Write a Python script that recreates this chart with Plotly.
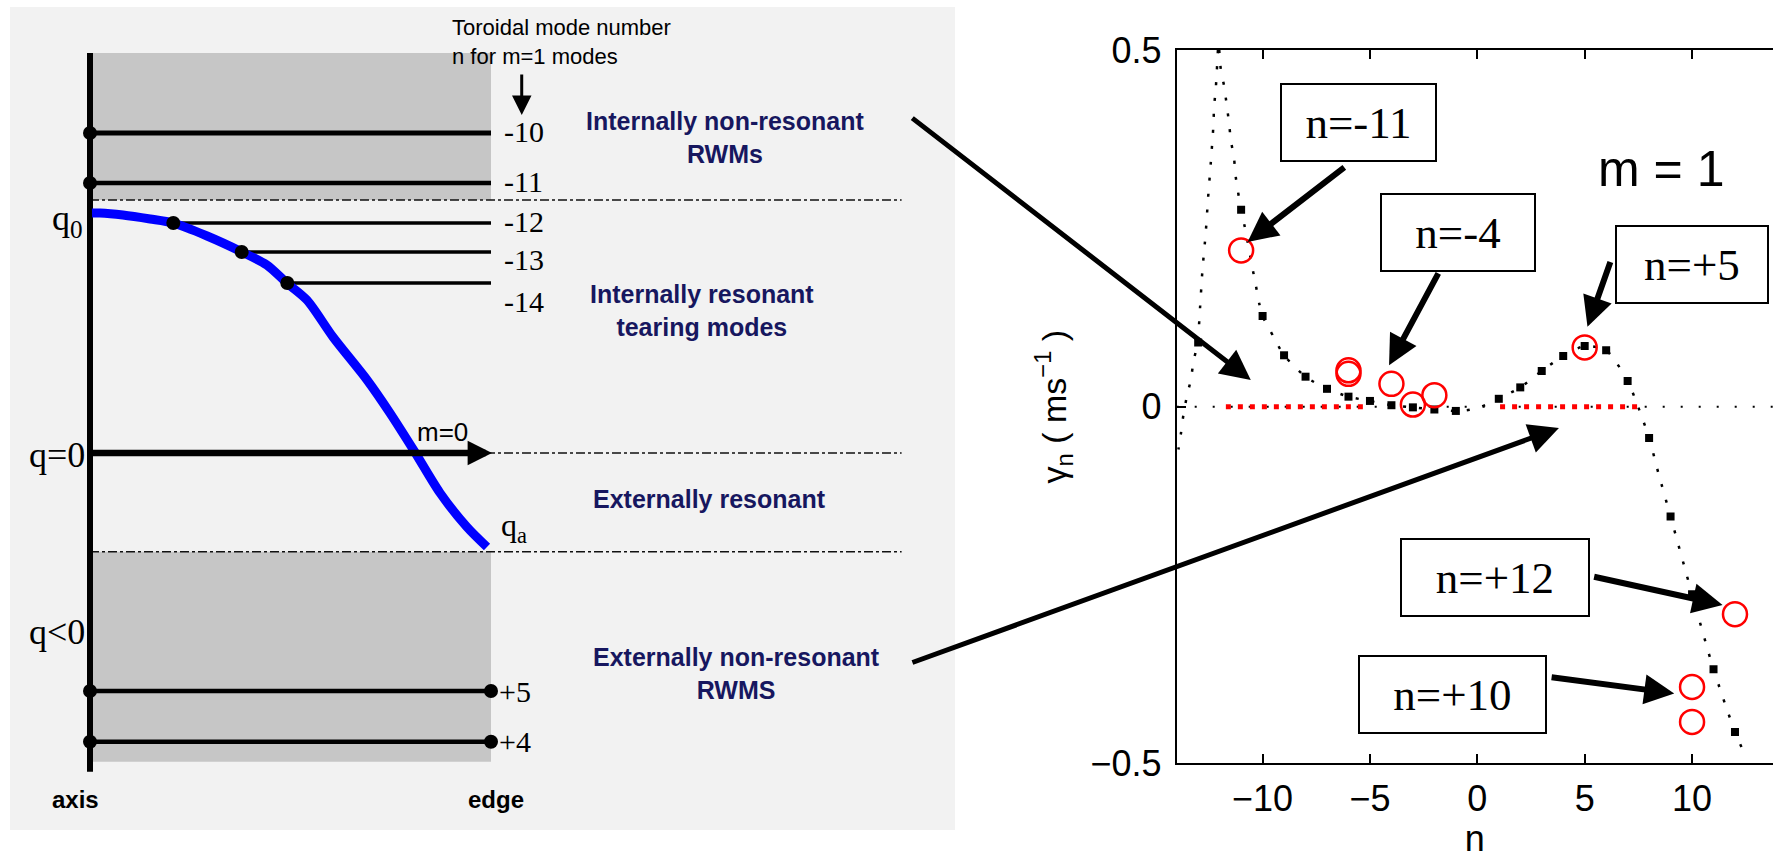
import plotly.graph_objects as go

# ===== m = 1 growth-rate spectrum (right panel) =====
# dotted spectrum curve, branch to the left of the pole near n = -12
n_curve_left = [-12.08, -12.18, -12.26, -12.29, -12.41, -12.54, -12.65, -12.80, -12.91,
                -13.03, -13.22, -13.34, -13.53, -13.69, -13.80, -13.92]
gamma_curve_left = [0.500, 0.446, 0.420, 0.395, 0.343, 0.292, 0.243, 0.192, 0.140,
                    0.089, 0.063, 0.038, 0.014, -0.012, -0.037, -0.060]
# dotted spectrum curve, branch to the right of the pole
n_curve_right = [-12.02, -11.95, -11.79, -11.67, -11.56, -11.48, -11.33, -11.25, -11.0,
                 -10.78, -10.63, -10.47, -10.32, -10.16, -10.0, -9.49, -9.0, -8.0, -7.0,
                 -6.0, -5.0, -4.0, -3.0, -2.0, -1.0, -0.5, 0.0, 0.5, 1.0, 2.0, 3.0, 4.0,
                 5.0, 6.0, 7.0, 7.46, 8.0, 8.44, 9.0, 10.0, 11.0, 12.0, 12.43]
gamma_curve_right = [0.500, 0.474, 0.449, 0.423, 0.397, 0.374, 0.348, 0.322, 0.276,
                     0.245, 0.220, 0.194, 0.171, 0.145, 0.127, 0.098, 0.072, 0.042, 0.025,
                     0.014, 0.008, 0.002, -0.001, -0.004, -0.006, -0.005, -0.002, 0.004,
                     0.011, 0.027, 0.050, 0.071, 0.085, 0.079, 0.036, 0.002, -0.044,
                     -0.094, -0.154, -0.263, -0.368, -0.456, -0.486]
# computed growth rates at integer n
n_points = [-13, -11, -10, -9, -8, -7, -6, -5, -4, -3, -2, -1,
            1, 2, 3, 4, 5, 6, 7, 8, 9, 10, 11, 12]
gamma_points = [0.090, 0.276, 0.127, 0.072, 0.042, 0.025, 0.014, 0.008, 0.002, -0.001,
                -0.004, -0.006, 0.011, 0.027, 0.050, 0.071, 0.085, 0.079, 0.036, -0.044,
                -0.154, -0.263, -0.368, -0.456]
# observed modes (open circles)
n_observed = [-11, -6, -6, -4, -3, -2, 5, 10, 10, 12]
gamma_observed = [0.219, 0.051, 0.046, 0.032, 0.003, 0.016, 0.083, -0.393, -0.442, -0.291]
# n-ranges marked along gamma = 0
stable_from = [-11.71, 1.06]
stable_to = [-5.04, 7.69]
x_ticks = [-10, -5, 0, 5, 10]
y_ticks = [-0.5, 0, 0.5]
callout_labels = ["n=-11", "n=-4", "n=+5", "n=+12", "n=+10"]
callout_targets_n = [-10.70, -4.11, 5.13, 11.42, 9.17]
callout_targets_gamma = [0.231, 0.058, 0.112, -0.278, -0.402]

# ===== schematic safety-factor profile (left panel) =====
# r: 0 = magnetic axis, 1 = edge; level: schematic q value, 0 = reversal surface
profile_r = [0.005, 0.025, 0.082, 0.150, 0.207, 0.292, 0.379, 0.441, 0.491, 0.541,
             0.606, 0.691, 0.748, 0.810, 0.873, 0.940, 0.990]
profile_level = [2.40, 2.40, 2.38, 2.34, 2.30, 2.17, 2.01, 1.88, 1.70, 1.53,
                 1.16, 0.73, 0.40, 0.01, -0.40, -0.74, -0.94]
nonres_int_labels = ["-10", "-11"]
nonres_int_level = [3.20, 2.70]
res_int_labels = ["-12", "-13", "-14"]
res_int_level = [2.30, 2.01, 1.70]
res_int_r = [0.2077, 0.3783, 0.492]
nonres_ext_labels = ["+5", "+4"]
nonres_ext_level = [-2.38, -2.887]
boundary_inner = 2.53
boundary_outer = -0.987

W, H = 1773, 861
SANS = "Liberation Sans"
SERIF = "Liberation Serif"
NAVY = "#17175f"

fig = go.Figure()

# ---------------- left panel ----------------
L = dict(xaxis="x2", yaxis="y2", hoverinfo="skip", showlegend=False)

shapes = [
    dict(type="rect", xref="x2", yref="y2", x0=-0.1995, x1=2.1571, y0=-3.77, y1=4.46,
         fillcolor="#f2f2f2", line_width=0, layer="below"),
    dict(type="rect", xref="x2", yref="y2", x0=0, x1=1, y0=boundary_inner, y1=4.00,
         fillcolor="#c6c6c6", line_width=0, layer="below"),
    dict(type="rect", xref="x2", yref="y2", x0=0, x1=1, y0=-3.087, y1=boundary_outer,
         fillcolor="#c6c6c6", line_width=0, layer="below"),
]
for lev in (boundary_inner, 0.0, boundary_outer):
    shapes.append(dict(type="line", xref="x2", yref="y2", x0=0, x1=2.024, y0=lev, y1=lev,
                       line=dict(color="#111111", width=1.5, dash="9px,3px,3px,3px"),
                       layer="below"))

# magnetic axis line
fig.add_trace(go.Scatter(x=[0, 0], y=[-3.187, 4.0], mode="lines",
                         line=dict(color="black", width=6), **L))
# internally non-resonant surfaces
for lev, w in zip(nonres_int_level, [5, 4.5]):
    fig.add_trace(go.Scatter(x=[0, 1], y=[lev, lev], mode="lines",
                             line=dict(color="black", width=w), **L))
# internally resonant surfaces
for r0, lev in zip(res_int_r, res_int_level):
    fig.add_trace(go.Scatter(x=[r0, 1], y=[lev, lev], mode="lines",
                             line=dict(color="black", width=3.5), **L))
# externally non-resonant surfaces
for lev in nonres_ext_level:
    fig.add_trace(go.Scatter(x=[0, 1], y=[lev, lev], mode="lines",
                             line=dict(color="black", width=4.5), **L))
# q profile
fig.add_trace(go.Scatter(x=profile_r, y=profile_level, mode="lines",
                         line=dict(color="#0000ff", width=9, shape="spline", smoothing=0.8), **L))
# dots
dot_r = [0] * len(nonres_int_level) + res_int_r + [0] * len(nonres_ext_level) + [1] * len(nonres_ext_level)
dot_l = nonres_int_level + res_int_level + nonres_ext_level + nonres_ext_level
fig.add_trace(go.Scatter(x=dot_r, y=dot_l, mode="markers",
                         marker=dict(color="black", size=14), **L))

ann = []


def ltext(text, r, lev, size, family=SERIF, color="black", xanchor="center",
          weight="normal", yshift=0, align="center"):
    ann.append(dict(text=text, x=r, y=lev, xref="x2", yref="y2", showarrow=False,
                    xanchor=xanchor, yanchor="middle", yshift=yshift, align=align,
                    font=dict(family=family, size=size, color=color, weight=weight)))


# mode number labels
for lab, lev, ys in zip(nonres_int_labels + res_int_labels, nonres_int_level + res_int_level,
                        [2, 2, 2, -7, -18]):
    ltext(lab, 1.027, lev, 30, xanchor="left", yshift=ys)
for lab, lev in zip(nonres_ext_labels, nonres_ext_level):
    ltext(lab, 1.015, lev, 30, xanchor="left")

ltext("Toroidal mode number<br>n for m=1 modes", 0.898, 4.11, 22, family=SANS, xanchor="left",
      align="left")
ltext("q<sub>0</sub>", -0.012, 2.33, 36, xanchor="right")
ltext("q=0", -0.008, -0.02, 36, xanchor="right")
ltext("q<0", -0.008, -1.79, 36, xanchor="right")
ltext("m=0", 0.878, 0.21, 26, family=SANS)
ltext("q<sub>a</sub>", 1.057, -0.74, 32)
ltext("axis", -0.035, -3.46, 24, family=SANS, weight="bold")
ltext("edge", 1.0125, -3.46, 24, family=SANS, weight="bold")
ltext("Internally non-resonant<br>RWMs", 1.584, 3.16, 25, family=SANS, color=NAVY, weight="bold")
ltext("Internally resonant<br>tearing modes", 1.526, 1.425, 25, family=SANS, color=NAVY, weight="bold")
ltext("Externally resonant", 1.546, -0.46, 25, family=SANS, color=NAVY, weight="bold")
ltext("Externally non-resonant<br>RWMS", 1.613, -2.2, 25, family=SANS, color=NAVY, weight="bold")

# q = 0 arrow and the down arrow under the mode-number heading
ann.append(dict(x=1.0025, y=0, ax=0, ay=0, xref="x2", yref="y2", axref="x2", ayref="y2",
                text="", showarrow=True, arrowhead=2, arrowwidth=6.5, arrowsize=0.75,
                arrowcolor="black", standoff=0))
ann.append(dict(x=1.0766, y=3.38, ax=0, ay=-42, xref="x2", yref="y2",
                text="", showarrow=True, arrowhead=2, arrowwidth=3, arrowsize=1.3,
                arrowcolor="black", standoff=0))

# ---------------- right panel ----------------
R = dict(xaxis="x", yaxis="y", hoverinfo="skip", showlegend=False)
# gamma = 0 reference
fig.add_trace(go.Scatter(x=[-14, 13.77], y=[0, 0], mode="lines",
                         line=dict(color="black", width=2, dash="2px,16px"), **R))
# spectrum curves
for xs, ys in ((n_curve_left, gamma_curve_left), (n_curve_right, gamma_curve_right)):
    fig.add_trace(go.Scatter(x=xs, y=ys, mode="lines",
                             line=dict(color="black", width=2.5, dash="3px,13px",
                                       shape="spline", smoothing=0.7), **R))
fig.add_trace(go.Scatter(x=n_points, y=gamma_points, mode="markers",
                         marker=dict(color="black", size=8, symbol="square"), **R))
# stable ranges
for a, b in zip(stable_from, stable_to):
    fig.add_trace(go.Scatter(x=[a, b], y=[0, 0], mode="lines",
                             line=dict(color="#ff0000", width=5, dash="5px,7px"), **R))
# observed modes
fig.add_trace(go.Scatter(x=n_observed, y=gamma_observed, mode="markers",
                         marker=dict(symbol="circle-open", size=24, color="#ff0000",
                                     line=dict(width=2.5, color="#ff0000")), **R))

# callout boxes
box_n = [-5.52, -0.885, 9.98, 0.82, -1.155]
box_g = [0.399, 0.244, 0.199, -0.240, -0.404]
box_w = [157, 156, 154, 190, 189]
tail_n = [-6.125, -1.78, 6.22, 5.37, 3.39]
tail_g = [0.337, 0.189, 0.205, -0.238, -0.379]
for lab, bn, bg, bw, tn, tg, hn, hg in zip(callout_labels, box_n, box_g, box_w, tail_n, tail_g,
                                            callout_targets_n, callout_targets_gamma):
    ann.append(dict(text=lab, x=bn, y=bg, xref="x", yref="y", showarrow=False,
                    width=bw - 4, height=75, bgcolor="white", bordercolor="black",
                    borderwidth=2, borderpad=0, xanchor="center", yanchor="middle",
                    font=dict(family=SERIF, size=45, color="black")))
    ann.append(dict(x=hn, y=hg, ax=tn, ay=tg, xref="x", yref="y", axref="x", ayref="y",
                    text="", showarrow=True, arrowhead=2, arrowwidth=6, arrowsize=1,
                    arrowcolor="black", standoff=0))

# arrows linking the schematic regions to the spectrum
ann.append(dict(x=-10.55, y=0.0374, ax=-340, ay=-263, xref="x", yref="y",
                text="", showarrow=True, arrowhead=2, arrowwidth=5, arrowsize=1.2,
                arrowcolor="black", standoff=0))
ann.append(dict(x=3.80, y=-0.030, ax=-648, ay=235, xref="x", yref="y",
                text="", showarrow=True, arrowhead=2, arrowwidth=5, arrowsize=1.2,
                arrowcolor="black", standoff=0))

ann.append(dict(text="m = 1", x=8.55, y=0.333, xref="x", yref="y", showarrow=False,
                font=dict(family=SANS, size=50, color="black")))

axis_font = dict(family=SANS, size=36, color="black")
fig.update_layout(
    width=W, height=H, margin=dict(l=0, r=0, t=0, b=0, autoexpand=False),
    paper_bgcolor="white", plot_bgcolor="rgba(0,0,0,0)",
    showlegend=False, shapes=shapes, annotations=ann,
    xaxis=dict(domain=[1176.7 / W, 1.0], range=[-14, 13.77], anchor="y", automargin=False,
               tickvals=x_ticks, ticks="inside", ticklen=9, tickwidth=1.5, tickcolor="black",
               showline=True, linecolor="black", linewidth=2, mirror="ticks",
               showgrid=False, zeroline=False, tickfont=axis_font, ticklabelstandoff=2,
               title=dict(text="n", font=axis_font, standoff=6)),
    yaxis=dict(domain=[(H - 763.3) / H, (H - 50) / H], range=[-0.5, 0.5], anchor="x",
               automargin=False,
               tickvals=y_ticks, ticktext=["\u22120.5", "0", "0.5"], ticks="inside",
               ticklen=9, tickwidth=1.5, tickcolor="black",
               showline=True, linecolor="black", linewidth=2, mirror=False,
               showgrid=False, zeroline=False, tickfont=axis_font, ticklabelstandoff=6,
               title=dict(text="\u03b3<sub>n</sub> ( ms<sup>\u22121</sup> )",
                          font=dict(family=SANS, size=34, color="black"), standoff=14)),
    xaxis2=dict(domain=[0, 1000 / W], range=[-0.22444, 2.26933], anchor="y2", visible=False,
                automargin=False),
    yaxis2=dict(domain=[0, 1], range=[-4.08, 4.53], anchor="x2", visible=False,
                automargin=False),
)

fig.write_html("out.html", config={"displayModeBar": False})
